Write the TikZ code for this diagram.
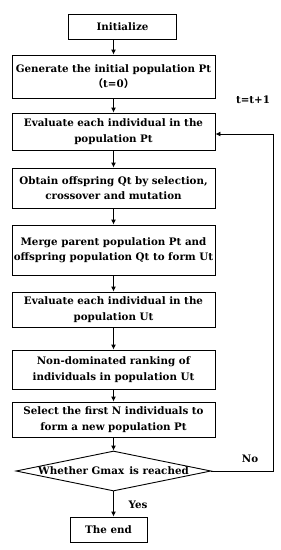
\documentclass[tikz,border=0pt]{standalone}
\usepackage{fontspec}
\setmainfont{DejaVu Serif}
\newfontfamily\cjk{Noto Sans CJK SC}
\usepackage{tikz}
\usetikzlibrary{positioning,arrows.meta,calc,shapes.geometric}

\tikzset{
  stepbox/.style={draw,line width=0.9pt,minimum width=203pt,align=center,inner sep=1pt,font=\bfseries\fontsize{10.3}{15.5}\selectfont},
  decbox/.style={draw,diamond,line width=0.9pt,minimum width=195pt,minimum height=40pt,inner sep=0pt},
  arr/.style={line width=0.9pt,-{Latex[length=5pt,width=5pt]}},
  lbl/.style={font=\bfseries\fontsize{10.3}{13}\selectfont}
}

\begin{document}
\begin{tikzpicture}[x=1pt,y=1pt]
\useasboundingbox (0,0) rectangle (281,-550);
% boxes
\node[stepbox,minimum width=108pt,minimum height=25pt] (init) at (122.5,-26.5) {Initialize};
\node[stepbox,minimum height=43pt] (gen) at (113.5,-76.5) {Generate the initial population Pt\\{\cjk （}t=0{\cjk ）}};
\node[stepbox,minimum height=37pt] (evalp) at (113.5,-131.5) {Evaluate each individual in the\\population Pt};
\node[stepbox,minimum height=40pt] (offs) at (113.5,-188) {Obtain offspring Qt by selection,\\crossover and mutation};
\node[stepbox,minimum height=50pt] (merge) at (113.5,-250) {Merge parent population Pt and\\offspring population Qt to form Ut};
\node[stepbox,minimum height=35pt] (evalu) at (113.5,-309.5) {Evaluate each individual in the\\population Ut};
\node[stepbox,minimum height=39pt] (rank) at (113.5,-369.5) {Non-dominated ranking of\\individuals in population Ut};
\node[stepbox,minimum height=35pt] (sel) at (113.5,-419.5) {Select the first N individuals to\\form a new population Pt};
\node[decbox] (dec) at (113.5,-471) {};
\node[lbl] (dectext) at (dec.center) {Whether Gmax\enspace is reached};
\node[stepbox,minimum width=77pt,minimum height=25pt] (end) at (108.5,-529.5) {The end};
% connectors
\draw[arr] (init.south -| gen.north) -- (gen.north);
\draw[arr] (gen) -- (evalp);
\draw[arr] (evalp) -- (offs);
\draw[arr] (offs) -- (merge);
\draw[arr] (merge) -- (evalu);
\draw[arr] (evalu) -- (rank);
\draw[arr] (rank) -- (sel);
\draw[arr] (sel) -- (dec.north);
\draw[arr] (dec.south) -- (dec.south |- end.north);
\coordinate (loop) at (273,-471);
\draw[arr] (dec.east) -- (loop) |- ($(evalp.east)+(0,-2.5)$);
% labels
\node[lbl] (no) at (250,-459) {No};
\node[lbl] (tinc) at (253,-100) {t=t+1};
\node[lbl] (yes) at (138,-505) {Yes};
\end{tikzpicture}
\end{document}
